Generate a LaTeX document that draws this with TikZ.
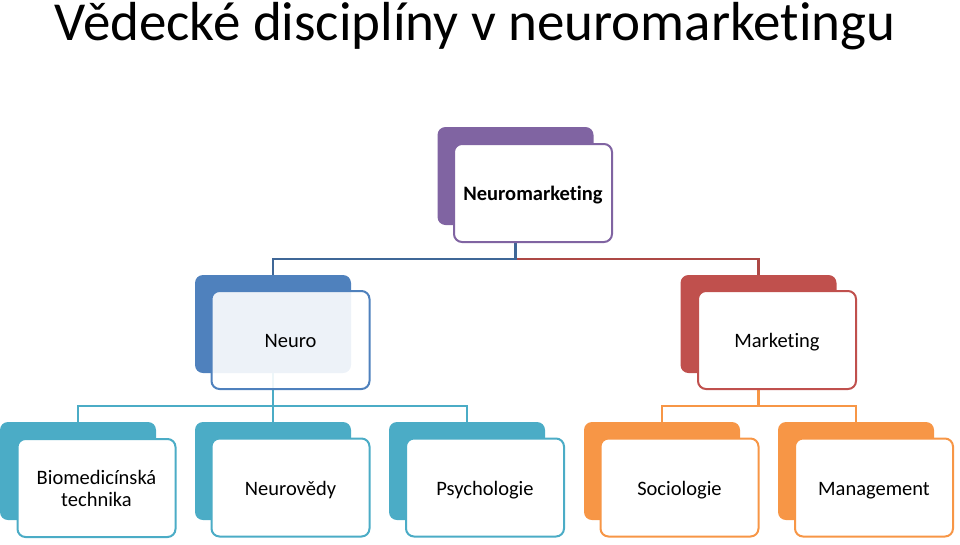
\documentclass[tikz,border=0pt]{standalone}
\usepackage{fontspec}
\setmainfont{Carlito}[RawFeature=-liga]
\usetikzlibrary{backgrounds}
\definecolor{nmpurple}{HTML}{8064A2}
\definecolor{nmblue}{HTML}{4F81BD}
\definecolor{nmred}{HTML}{C0504D}
\definecolor{nmaqua}{HTML}{4BACC6}
\definecolor{nmorange}{HTML}{F79646}
\tikzset{
  backbox/.style={fill=#1, rounded corners=8pt, minimum width=156pt,
    minimum height=98pt, inner sep=0pt},
  frontbox/.style={draw=#1, fill=white, line width=2pt, rounded corners=8pt,
    minimum width=158pt, minimum height=98pt, inner sep=0pt, align=center,
    text height=17pt, text depth=2pt, font=\fontsize{20.5}{22}\selectfont},
  link/.style={draw=#1, line width=2.5pt}
}
\begin{document}
\begin{tikzpicture}[x=1pt,y=-1pt]
\useasboundingbox (0,0) rectangle (960,544);
\node[anchor=base, font=\fontsize{55}{60}\selectfont] (title) at (475,40)
  {Vědecké disciplíny v neuromarketingu};

% top
\node[backbox=nmpurple] (nmB) at (515.5,176) {};
\node[frontbox=nmpurple, font=\bfseries\fontsize{20.5}{22}\selectfont] (nmF) at (533,193) {Neuromarketing};

% middle
\node[backbox=nmblue] (neuroB) at (273,324) {};
\node[frontbox=nmblue, fill opacity=0.9, text opacity=1] (neuroF) at (290.5,340) {Neuro};
\node[backbox=nmred] (marB) at (758.5,324) {};
\node[frontbox=nmred] (marF) at (777,340) {Marketing};

% bottom
\node[backbox=nmaqua] (bioB) at (78,471) {};
\node[frontbox=nmaqua, text height=, text depth=] (bioF) at (96.5,488) {Biomedicínská\\technika};
\node[backbox=nmaqua] (nvB) at (273,471) {};
\node[frontbox=nmaqua] (nvF) at (290.5,487.5) {Neurovědy};
\node[backbox=nmaqua] (psyB) at (467,471) {};
\node[frontbox=nmaqua] (psyF) at (485,487.5) {Psychologie};
\node[backbox=nmorange] (socB) at (662,471) {};
\node[frontbox=nmorange] (socF) at (679.5,487.5) {Sociologie};
\node[backbox=nmorange] (manB) at (856,471) {};
\node[frontbox=nmorange] (manF) at (874,487.5) {Management};

% connectors
\begin{scope}[on background layer]
\draw[link=nmred!90!black] (nmB.south) -- ++(0,34) -| (marB.north);
\draw[link=nmblue!80!black] (nmB.south) -- ++(0,34) -| (neuroB.north);
\draw[link=nmaqua] (neuroB.south) -- ++(0,33) -| (bioB.north);
\draw[link=nmaqua] (neuroB.south) -- (nvB.north);
\draw[link=nmaqua] (neuroB.south) -- ++(0,33) -| (psyB.north);
\draw[link=nmorange] (marB.south) -- ++(0,33) -| (socB.north);
\draw[link=nmorange] (marB.south) -- ++(0,33) -| (manB.north);
\end{scope}
\end{tikzpicture}
\end{document}
